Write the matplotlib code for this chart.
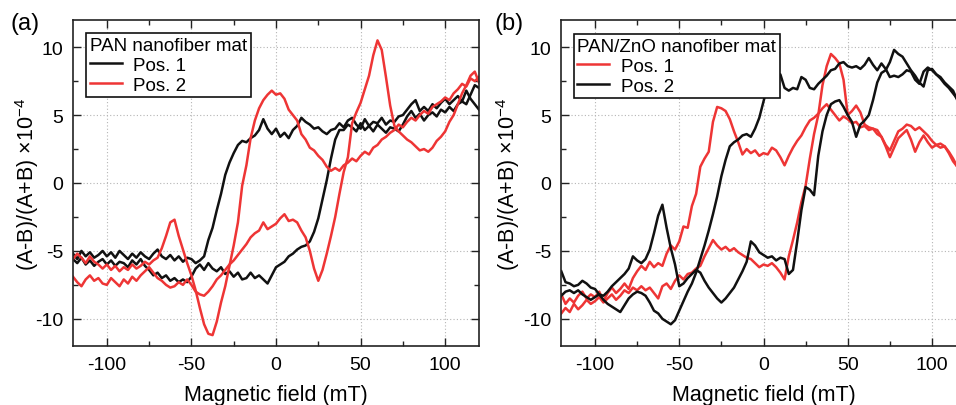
import numpy as np
import matplotlib
matplotlib.use("Agg")
import matplotlib.pyplot as plt
from matplotlib.ticker import MultipleLocator
from matplotlib.lines import Line2D

plt.rcParams['font.family'] = ['Liberation Sans', 'DejaVu Sans']
plt.rcParams['mathtext.fontset'] = 'custom'
plt.rcParams['mathtext.rm'] = 'Liberation Sans'
plt.rcParams['axes.unicode_minus'] = False

# field sweep grid (mT)
field_mT = np.arange(-120, 120.01, 2.5)

# ---------------- panel (a): PAN nanofiber mat ----------------
a_pos1_up = [
    -5.6, -5.9, -5.5, -6.0, -5.7, -6.1, -5.8, -5.6,
    -6.0, -5.7, -6.1, -5.8, -5.9, -6.2, -5.7, -6.0,
    -5.6, -6.1, -6.4, -6.8, -6.6, -7.0, -6.8, -7.2,
    -7.0, -7.3, -7.1, -7.3, -6.9, -6.3, -6.0, -6.4,
    -5.9, -6.3, -6.5, -6.2, -6.7, -6.5, -6.9, -6.6,
    -7.1, -7.0, -6.6, -7.0, -6.8, -7.1, -7.4, -6.8,
    -6.2, -6.0, -5.8, -5.4, -5.2, -4.9, -4.7, -4.6,
    -4.3, -3.6, -2.6, -1.2, 0.2, 1.8, 3.2, 3.9,
    3.9, 4.3, 4.1, 3.8, 4.4, 3.9, 4.2, 3.8,
    4.3, 4.0, 3.7, 4.1, 4.0, 3.8, 4.3, 4.9,
    5.3, 4.8, 5.1, 4.6, 5.0, 5.2, 4.9, 5.4,
    5.2, 5.6, 5.3, 5.8, 6.0, 5.8, 6.5, 7.2,
    7.0]
a_pos1_dn = [
    -5.2, -5.6, -5.0, -5.4, -5.1, -5.5, -5.3, -5.0,
    -5.4, -5.1, -5.5, -5.0, -5.3, -5.6, -5.2, -5.5,
    -5.1, -5.4, -5.6, -5.2, -4.9, -5.4, -5.6, -5.3,
    -5.7, -5.4, -5.8, -5.5, -5.6, -5.9, -5.7, -5.4,
    -4.2, -3.3, -2.0, -0.8, 0.6, 1.5, 2.2, 2.8,
    3.1, 3.0, 3.3, 3.5, 3.9, 4.7, 4.0, 3.6,
    4.0, 3.4, 3.7, 3.3, 3.9, 4.2, 4.8, 4.5,
    4.3, 4.0, 4.1, 3.8, 3.6, 3.9, 4.0, 4.4,
    4.1, 4.6, 4.8, 4.3, 4.0, 4.7, 4.2, 4.5,
    4.4, 4.8, 4.3, 4.6, 4.5, 4.9, 5.0, 5.4,
    5.8, 6.1, 5.3, 5.6, 5.3, 5.8, 5.5, 5.9,
    6.2, 5.8, 6.1, 6.4, 6.0, 6.8, 6.2, 5.8,
    5.4]
a_pos2_p = [
    -5.6, -5.2, -5.5, -5.9, -5.4, -5.8, -6.0, -6.3,
    -6.0, -6.4, -6.1, -6.5, -6.2, -6.4, -6.0, -6.3,
    -6.1, -5.8, -6.0, -5.7, -5.5, -4.8, -3.9, -2.9,
    -2.7, -3.9, -4.9, -5.9, -6.8, -7.9, -9.2, -10.4,
    -11.1, -11.2, -10.2, -8.8, -7.6, -6.1, -4.6, -2.9,
    -0.2, 1.3, 3.3, 4.6, 5.5, 6.1, 6.5, 6.8,
    6.5, 6.6, 6.2, 5.4, 5.0, 4.6, 3.6, 3.2,
    2.6, 2.4, 2.0, 1.7, 1.2, 0.9, 1.1, 0.9,
    1.3, 1.5, 1.8, 1.6, 2.0, 2.3, 2.1, 2.6,
    2.8, 3.2, 3.4, 3.7, 3.9, 4.3, 4.1, 4.5,
    4.8, 4.6, 5.0, 5.3, 5.1, 5.6, 5.8, 6.0,
    6.3, 6.1, 6.6, 6.9, 7.3, 7.1, 7.7, 7.5,
    7.8]
a_pos2_q = [
    -6.9, -7.3, -7.6, -7.1, -6.8, -7.2, -7.0, -7.4,
    -7.5, -7.0, -7.3, -7.6, -7.1, -7.4, -6.9, -7.2,
    -6.8, -6.5, -6.2, -6.6, -7.0, -7.2, -7.5, -7.7,
    -7.6, -7.3, -7.5, -7.1, -7.5, -8.0, -8.2, -8.3,
    -8.0, -7.6, -7.1, -6.8, -6.4, -6.0, -5.7, -5.3,
    -4.9, -4.5, -4.0, -3.7, -3.5, -2.9, -3.4, -3.2,
    -3.0, -2.6, -2.3, -2.8, -2.7, -2.9, -3.5, -4.0,
    -5.0, -6.3, -7.2, -6.4, -5.2, -3.9, -2.5, -0.8,
    0.8, 1.9, 4.4, 5.2, 5.9, 6.9, 7.9, 9.4,
    10.5, 9.8, 7.8, 5.7, 4.2, 3.8, 3.5, 3.2,
    3.0, 2.7, 2.4, 2.5, 2.3, 2.6, 3.1, 3.4,
    3.8, 4.5, 5.0, 5.8, 6.6, 7.2, 7.9, 8.2,
    7.4]

# ---------------- panel (b): PAN/ZnO nanofiber mat ----------------
b_pos1_r1 = [
    -8.2, -8.9, -8.5, -8.8, -8.3, -8.0, -8.5, -8.2,
    -8.4, -8.0, -8.7, -8.1, -7.7, -8.1, -7.8, -7.4,
    -7.8, -7.0, -6.5, -6.1, -6.4, -5.8, -6.2, -5.9,
    -6.1, -5.2, -4.6, -4.9, -4.3, -3.2, -3.3, -1.7,
    -0.8, 1.2, 1.8, 2.3, 4.5, 5.6, 5.5, 5.3,
    4.7, 3.8, 3.0, 2.1, 2.5, 2.2, 2.4, 2.0,
    2.2, 2.1, 2.6, 2.4, 1.9, 1.3, 2.0, 2.6,
    3.1, 3.5, 4.1, 4.6, 4.8, 5.1, 5.5, 5.8,
    5.4, 5.0, 4.6, 4.9, 4.7, 4.4, 4.5, 4.1,
    4.2, 3.9, 4.0, 3.6, 3.4, 2.8, 2.4, 3.1,
    3.8, 4.0, 4.3, 4.2, 3.9, 4.1, 3.8, 3.5,
    3.1, 2.8, 2.6, 2.7, 2.3, 1.8, 1.2, 0.9,
    0.7]
b_pos1_r2 = [
    -9.6, -9.2, -9.5, -8.9, -9.3, -9.0, -8.6, -8.9,
    -8.7, -8.4, -8.8, -8.5, -8.2, -8.6, -8.3, -7.9,
    -8.1, -7.7, -7.9, -7.6, -7.9, -7.7, -8.1, -8.5,
    -7.6, -7.4, -7.8, -7.2, -6.8, -7.1, -6.7, -6.6,
    -6.3, -6.1, -5.4, -4.8, -4.2, -4.6, -4.9, -4.7,
    -5.0, -4.8, -5.1, -5.3, -5.5, -5.6, -5.9, -6.2,
    -6.0, -6.1, -5.9, -6.2, -6.6, -7.1, -5.4, -4.2,
    -2.9, -1.4, -0.2, 1.8, 3.6, 5.0, 7.2, 8.6,
    9.5, 9.2, 8.8, 7.6, 5.0, 5.3, 5.7, 5.2,
    4.3, 4.1, 4.0, 3.9, 3.4, 2.7, 1.9, 2.6,
    3.3, 3.6, 3.9, 3.2, 2.3, 3.0, 3.5, 3.0,
    2.6, 2.8, 2.9, 2.7, 2.2, 1.6, 1.2, 0.8,
    0.5]
b_pos2_k1 = [
    -6.5, -7.3, -7.4, -7.6, -7.5, -7.2, -7.4, -7.7,
    -7.8, -8.2, -8.6, -8.9, -9.1, -9.3, -9.5, -9.0,
    -8.5, -8.2, -8.0, -8.1, -8.3, -8.8, -9.4, -9.6,
    -10.0, -10.2, -10.4, -10.1, -9.4, -8.7, -8.0, -7.4,
    -6.6, -5.6, -4.6, -3.5, -2.3, -1.0, 0.5, 1.7,
    2.7, 3.0, 3.2, 3.5, 3.6, 3.4, 4.0, 4.8,
    6.0, 7.2, 7.6, 7.9, 8.0, 7.0, 6.8, 7.0,
    6.9, 7.8, 7.6, 7.0, 6.9, 7.3, 7.6, 7.9,
    8.3, 8.4, 8.8, 8.9, 8.6, 8.5, 8.6, 8.4,
    8.7, 9.2, 8.7, 8.3, 8.8, 8.4, 7.8, 7.9,
    7.8, 8.0, 8.3, 8.2, 7.6, 7.3, 8.2, 8.5,
    8.3, 8.0, 7.8, 7.4, 7.1, 6.8, 6.1, 5.8,
    5.5]
b_pos2_k2 = [
    -8.3, -8.0, -7.9, -8.1, -7.9, -8.2, -8.4, -8.6,
    -8.4, -8.2, -8.3, -8.0, -7.6, -7.3, -7.0, -6.7,
    -6.3, -5.4, -5.7, -5.9, -5.6, -4.9, -3.7, -2.4,
    -1.6, -3.3, -4.8, -6.0, -7.6, -7.4, -7.0, -6.7,
    -6.4, -6.6, -7.2, -7.7, -8.1, -8.5, -8.8, -8.5,
    -8.1, -7.7, -7.1, -6.5, -5.8, -4.3, -4.6, -5.1,
    -5.3, -5.5, -5.4, -5.7, -5.5, -5.6, -6.7, -6.4,
    -4.3, -2.0, -0.3, -0.5, -0.9, 2.0, 3.8, 5.0,
    5.8, 6.0, 6.1, 5.6, 5.0, 4.5, 3.4, 4.3,
    4.6, 5.0, 6.1, 7.4, 8.1, 8.3, 8.9, 9.8,
    9.5, 9.3, 8.8, 8.3, 7.9, 7.4, 7.1, 8.3,
    8.4, 8.0, 7.7, 7.3, 7.0, 6.6, 6.2, 5.9,
    5.6]

RED = '#ee3535'
BLACK = '#111111'
LW = 1.8

fig = plt.figure(figsize=(9.56, 4.06), dpi=100)
ax_a = fig.add_axes([73 / 956, 1 - 347 / 406, 406 / 956, 326 / 406])
ax_b = fig.add_axes([561.3 / 956, 1 - 347 / 406, 404.4 / 956, 326 / 406])


def style(ax, ylab_x):
    ax.set_xlim(-120, 120)
    ax.set_ylim(-12, 12)
    ax.xaxis.set_major_locator(MultipleLocator(50))
    ax.xaxis.set_minor_locator(MultipleLocator(25))
    ax.yaxis.set_major_locator(MultipleLocator(5))
    ax.yaxis.set_minor_locator(MultipleLocator(2.5))
    ax.tick_params(which='both', direction='in', top=True, right=True,
                   labelsize=14, pad=7, width=1.0, color='#222222')
    ax.tick_params(which='major', length=6)
    ax.tick_params(which='minor', length=3.5)
    ax.grid(True, which='major', ls=(0, (1, 2)), color='#b5b5b5', lw=0.8)
    ax.set_axisbelow(True)
    for s in ax.spines.values():
        s.set_linewidth(1.2)
        s.set_color('#222222')
    ax.set_xlabel('Magnetic field (mT)', fontsize=15.5)
    ax.set_ylabel('(A-B)/(A+B) \u00d710$^{\\mathregular{-4}}$', fontsize=15.5)
    ax.xaxis.set_label_coords(0.5, -0.117)
    ax.yaxis.set_label_coords(ylab_x, 0.5)


style(ax_a, -0.078)
style(ax_b, -0.097)

# panel (a)
ax_a.plot(field_mT, a_pos1_up, color=BLACK, lw=LW)
ax_a.plot(field_mT, a_pos1_dn, color=BLACK, lw=LW)
ax_a.plot(field_mT, a_pos2_p, color=RED, lw=LW)
ax_a.plot(field_mT, a_pos2_q, color=RED, lw=LW)

# panel (b)
ax_b.plot(field_mT, b_pos1_r1, color=RED, lw=LW)
ax_b.plot(field_mT, b_pos1_r2, color=RED, lw=LW)
ax_b.plot(field_mT, b_pos2_k1, color=BLACK, lw=LW)
ax_b.plot(field_mT, b_pos2_k2, color=BLACK, lw=LW)


def add_legend(ax, title, colors, anchor):
    handles = [Line2D([], [], color=c, lw=LW) for c in colors]
    leg = ax.legend(handles, ['Pos. 1', 'Pos. 2'], title=title,
                    loc='upper left', bbox_to_anchor=anchor,
                    alignment='left', fancybox=False, framealpha=1,
                    edgecolor='#111111', fontsize=13.5, title_fontsize=13.5,
                    handlelength=1.7, handletextpad=0.6, borderpad=0.2,
                    labelspacing=0.15, borderaxespad=0)
    leg.get_frame().set_linewidth(1.2)
    return leg


add_legend(ax_a, 'PAN nanofiber mat', [BLACK, RED], (0.032, 0.960))
add_legend(ax_b, 'PAN/ZnO nanofiber mat', [RED, BLACK], (0.0307, 0.957))

fig.text(10 / 956, 1 - 24 / 406, '(a)', fontsize=17, va='center', ha='left')
fig.text(494 / 956, 1 - 24 / 406, '(b)', fontsize=17, va='center', ha='left')

fig.savefig('out.png', dpi=100)
